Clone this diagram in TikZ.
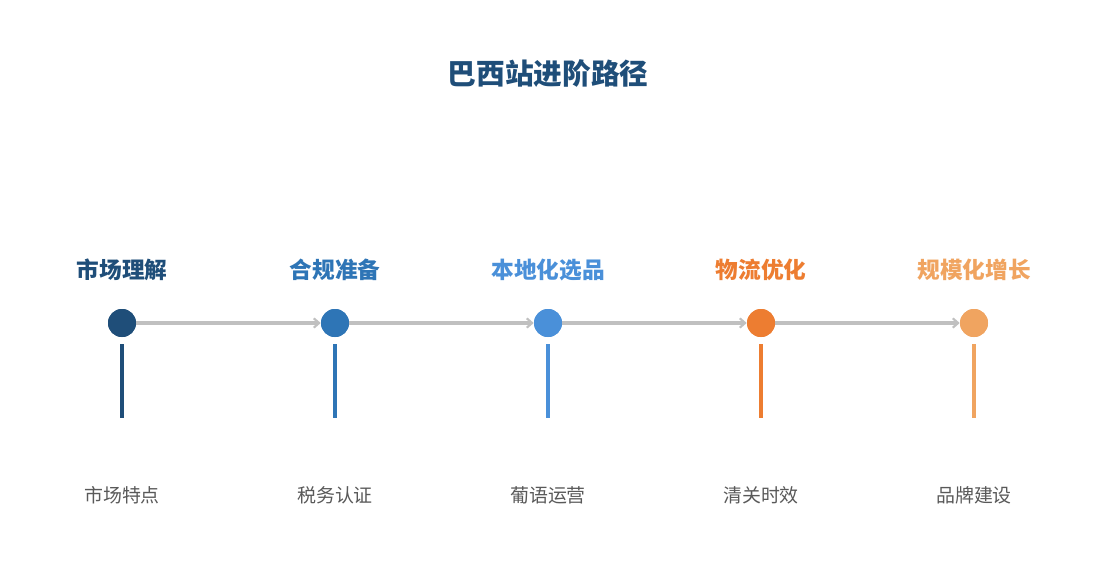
\documentclass[tikz,border=0pt]{standalone}
\usepackage{fontspec}
\newfontfamily\cjk{Noto Sans CJK SC}
\usetikzlibrary{arrows.meta}
\definecolor{cA}{HTML}{1F4E79}
\definecolor{cB}{HTML}{2E75B6}
\definecolor{cC}{HTML}{4A90D9}
\definecolor{cD}{HTML}{ED7D31}
\definecolor{cE}{HTML}{F0A460}
\definecolor{arrowgray}{HTML}{C0C0C0}
\definecolor{subgray}{HTML}{595959}
\tikzset{
  dot/.style={circle,inner sep=0pt,minimum size=21pt,draw=none},
  stagelabel/.style={font=\cjk\bfseries\fontsize{17}{20}\selectfont,inner sep=0pt},
  sublabel/.style={font=\cjk\fontsize{14.2}{17}\selectfont,text=subgray,inner sep=0pt},
  titlelabel/.style={font=\cjk\bfseries\fontsize{21.5}{25}\selectfont,text=cA,inner sep=0pt},
  flow/.style={draw=arrowgray,line width=2.3pt,-{Straight Barb[length=4pt,width=7pt,line width=1.6pt]}},
  stem/.style={line width=3pt}
}
\begin{document}
\begin{tikzpicture}[x=0.75pt,y=-0.75pt]
\useasboundingbox[fill=white] (0,0) rectangle (1095,585);
\node[titlelabel] (title) at (548,74) {巴西站进阶路径};
% circles
\foreach \i/\x/\c in {1/122/cA,2/335/cB,3/548/cC,4/761/cD,5/974/cE}{
  \node[dot,fill=\c] (d\i) at (\x,323) {};
  \coordinate (s\i) at (\x,344);
  \coordinate (e\i) at (\x,418);
}
% arrows
\foreach \i/\j in {1/2,2/3,3/4,4/5}{
  \draw[flow] (d\i.east) -- (d\j.west);
}
% redraw circles on top
\foreach \i/\x/\c in {1/122/cA,2/335/cB,3/548/cC,4/761/cD,5/974/cE}{
  \fill[\c] (\x,323) circle (14);
  \draw[stem,draw=\c] (s\i) -- (e\i);
}
\node[stagelabel,text=cA] (t1) at (122,270) {市场理解};
\node[stagelabel,text=cB] (t2) at (335,270) {合规准备};
\node[stagelabel,text=cC] (t3) at (548,270) {本地化选品};
\node[stagelabel,text=cD] (t4) at (761,270) {物流优化};
\node[stagelabel,text=cE] (t5) at (974,270) {规模化增长};
\node[sublabel] (b1) at (122,495) {市场特点};
\node[sublabel] (b2) at (335,495) {税务认证};
\node[sublabel] (b3) at (548,495) {葡语运营};
\node[sublabel] (b4) at (761,495) {清关时效};
\node[sublabel] (b5) at (974,495) {品牌建设};
\end{tikzpicture}
\end{document}
